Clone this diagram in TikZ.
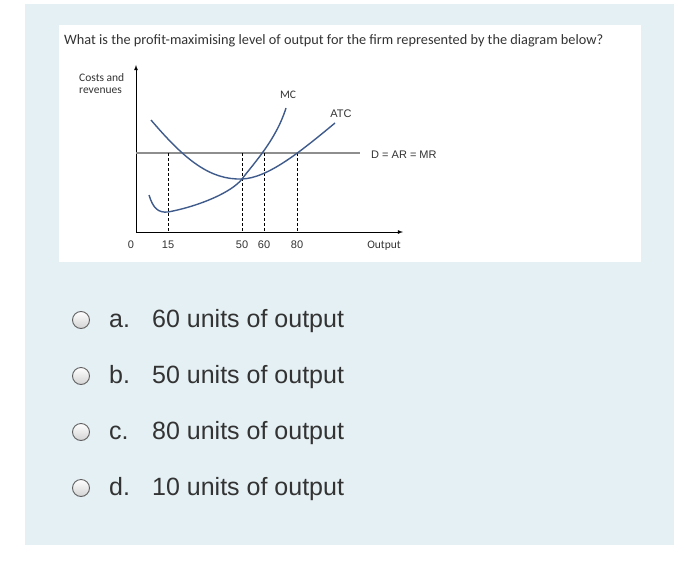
\documentclass[tikz,border=0pt]{standalone}
\usepackage{fontspec}
\setmainfont{Liberation Sans}
\newfontfamily\califont{Carlito}
\usetikzlibrary{positioning}
\definecolor{panelblue}{HTML}{E5F0F4}
\definecolor{curveblue}{HTML}{3F5B8C}
\definecolor{linegrey}{HTML}{8E8E8E}
\definecolor{textgrey}{HTML}{333333}

\begin{document}
\begin{tikzpicture}[x=1pt,y=-1pt,
	curve/.style={curveblue,line width=1.4pt},
	guide/.style={black,dashed,dash pattern=on 3pt off 2pt,line width=0.7pt},
	small/.style={font=\califont\fontsize{11.5}{12}\selectfont,text=textgrey,inner sep=0pt},
	arialsmall/.style={font=\fontsize{11}{12}\selectfont,text=textgrey,inner sep=0pt},
	radio/.style={circle,draw=gray!75!black,line width=0.9pt,minimum size=17pt,inner sep=0pt,top color=white,bottom color=gray!35},
	optlabel/.style={anchor=base west,inner sep=0pt,font=\fontsize{25}{28}\selectfont,text=textgrey}]

\useasboundingbox (0,0) rectangle (700,583);
\fill[white] (0,0) rectangle (700,583);
\fill[panelblue] (25,4) rectangle (674,545);
\fill[white] (59,25) rectangle (641,262);

\node[anchor=base west,inner sep=0pt,text=textgrey,font=\califont\fontsize{14.3}{17}\selectfont] (question) at (64,45)
	{What is the profit-maximising level of output for the firm represented by the diagram below?};

% axes
\coordinate (origin) at (136,232);
\coordinate (ytop) at (136,65);
\coordinate (xend) at (403,232);
\draw[black,line width=0.8pt,-latex] (origin) -- (ytop);
\draw[black,line width=0.8pt,-latex] (origin) -- (xend);

% price line
\coordinate (pleft) at (136,153);
\coordinate (pright) at (360,153);
\draw[linegrey,line width=1.2pt] (pleft) -- (pright);

% dashed guides
\foreach \q/\px in {15/168,50/242,60/264,80/297}{
	\coordinate (top\q) at (\px,153);
	\coordinate (bot\q) at (\px,232);
	\draw[guide] (top\q) -- (bot\q);
	\node[arialsmall] (tick\q) at (\px,245) {\q};
}
\node[arialsmall] (tick0) at (131,245) {0};

% curves
\draw[curve] (151,120) .. controls (185,160) and (210,180) .. (242,179)
	.. controls (268,178) and (300,152) .. (335,123);
\draw[curve] (149,195) .. controls (153,208) and (158,213) .. (168,212)
	.. controls (200,206) and (232,192) .. (242,179)
	.. controls (254,163) and (276,140) .. (286,108);

% labels
\node[small,align=left,anchor=west] (ylab) at (79,84) {Costs and\\revenues};
\node[small] (mclab) at (288,95) {MC};
\node[arialsmall] (atclab) at (341,114) {ATC};
\node[arialsmall,anchor=west] (dlab) at (371,155) {D = AR = MR};
\node[small] (xlab) at (384,246) {Output};

% answer options
\foreach \i/\l/\n in {0/a/60,1/b/50,2/c/80,3/d/10}{
	\node[radio] (radio\l) at (81,320+56*\i) {};
	\node[optlabel] (let\l) at (109,327+56*\i) {\l.};
	\node[optlabel] (opt\l) at (152,327+56*\i) {\n\ units of output};
}
\end{tikzpicture}
\end{document}
